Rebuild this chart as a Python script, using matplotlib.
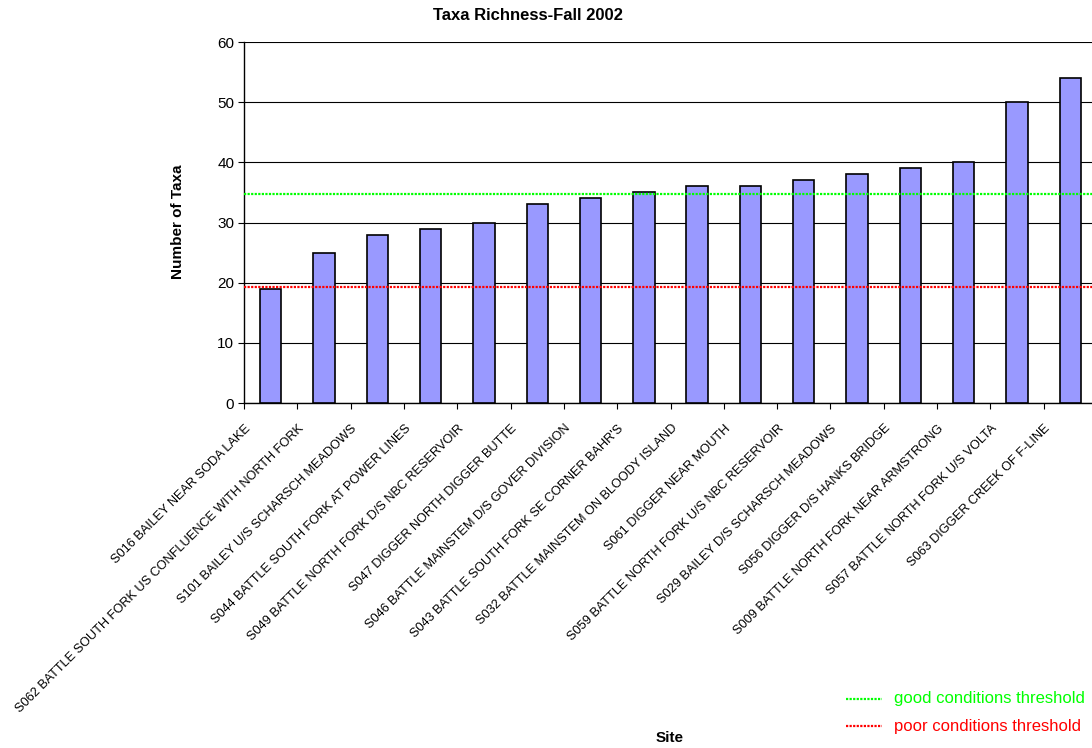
import numpy as np
import matplotlib.pyplot as plt
import matplotlib.transforms as mtransforms

plt.rcParams['font.family'] = ['Liberation Sans', 'DejaVu Sans']

# Sites and taxa counts
sites = [
    "S016 BAILEY NEAR SODA LAKE",
    "S062 BATTLE SOUTH FORK US CONFLUENCE WITH NORTH FORK",
    "S101 BAILEY U/S SCHARSCH MEADOWS",
    "S044 BATTLE SOUTH FORK AT POWER LINES",
    "S049 BATTLE NORTH FORK D/S NBC RESERVOIR",
    "S047 DIGGER NORTH DIGGER BUTTE",
    "S046 BATTLE MAINSTEM D/S GOVER DIVISION",
    "S043 BATTLE SOUTH FORK SE CORNER BAHR'S",
    "S032 BATTLE MAINSTEM ON BLOODY ISLAND",
    "S061 DIGGER NEAR MOUTH",
    "S059 BATTLE NORTH FORK U/S NBC RESERVOIR",
    "S029 BAILEY D/S SCHARSCH MEADOWS",
    "S056 DIGGER D/S HANKS BRIDGE",
    "S009 BATTLE NORTH FORK NEAR ARMSTRONG",
    "S057 BATTLE NORTH FORK U/S VOLTA",
    "S063 DIGGER CREEK OF F-LINE",
]
taxa = [19, 25, 28, 29, 30, 33, 34, 35, 36, 36, 37, 38, 39, 40, 50, 54]

good_threshold = 34.8
poor_threshold = 19.3
y_ticks = [0, 10, 20, 30, 40, 50, 60]

fig = plt.figure(figsize=(10.92, 7.48), dpi=100)
ax = fig.add_axes([244 / 1092, 1 - 403 / 748, 853 / 1092, 361 / 748])

x = np.arange(len(sites))
ax.bar(x, taxa, width=0.4, color="#9999FF", edgecolor="black", linewidth=1.2, zorder=3)

ax.axhline(good_threshold, color="#00FF00", linestyle=(0, (1, 0.6)), linewidth=1.6, zorder=4)
ax.axhline(poor_threshold, color="#FF0000", linestyle=(0, (1, 0.6)), linewidth=1.6, zorder=4)

ax.set_xlim(-0.5, len(sites) - 0.5)
ax.set_ylim(0, 60)
ax.set_yticks(y_ticks)
ax.tick_params(axis="y", labelsize=11, length=4, direction="out", pad=3)
ax.yaxis.grid(True, color="black", linewidth=0.8, zorder=0)
ax.set_axisbelow(True)

# category ticks sit between bars
ax.set_xticks(np.arange(len(sites) + 1) - 0.5, minor=False)
ax.set_xticklabels([])
ax.tick_params(axis="x", length=4, direction="out")
ax.set_xticks(x, minor=True)
ax.set_xticklabels(sites, minor=True, rotation=45, ha="right", va="center",
                   rotation_mode="anchor", fontsize=9.2)
ax.tick_params(axis="x", which="minor", length=0, pad=17)
shift = mtransforms.ScaledTranslation(-22 / 100, 0, fig.dpi_scale_trans)
for lab in ax.get_xticklabels(minor=True):
    lab.set_transform(lab.get_transform() + shift)

for side in ["top", "right"]:
    ax.spines[side].set_visible(False)
ax.spines["left"].set_linewidth(1.0)
ax.spines["bottom"].set_linewidth(1.0)

fig.text(528 / 1092, 1 - 15 / 748, "Taxa Richness-Fall 2002", ha="center", va="center",
         fontsize=12, fontweight="bold")
fig.text(178 / 1092, 1 - 222 / 748, "Number of Taxa", ha="center", va="center",
         rotation=90, fontsize=11, fontweight="bold")
fig.text(670 / 1092, 1 - 738 / 748, "Site", ha="center", va="center",
         fontsize=11, fontweight="bold")

# threshold legend
for yy, col, txt in [(699, "#00FF00", "good conditions threshold"),
                     (726, "#FF0000", "poor conditions threshold")]:
    fig.add_artist(plt.Line2D([846 / 1092, 882 / 1092], [1 - yy / 748, 1 - yy / 748],
                              color=col, linestyle=(0, (1, 0.6)), linewidth=1.6))
    fig.text(894 / 1092, 1 - yy / 748, txt, ha="left", va="center", fontsize=12, color=col)

fig.savefig("out.png", dpi=100)
